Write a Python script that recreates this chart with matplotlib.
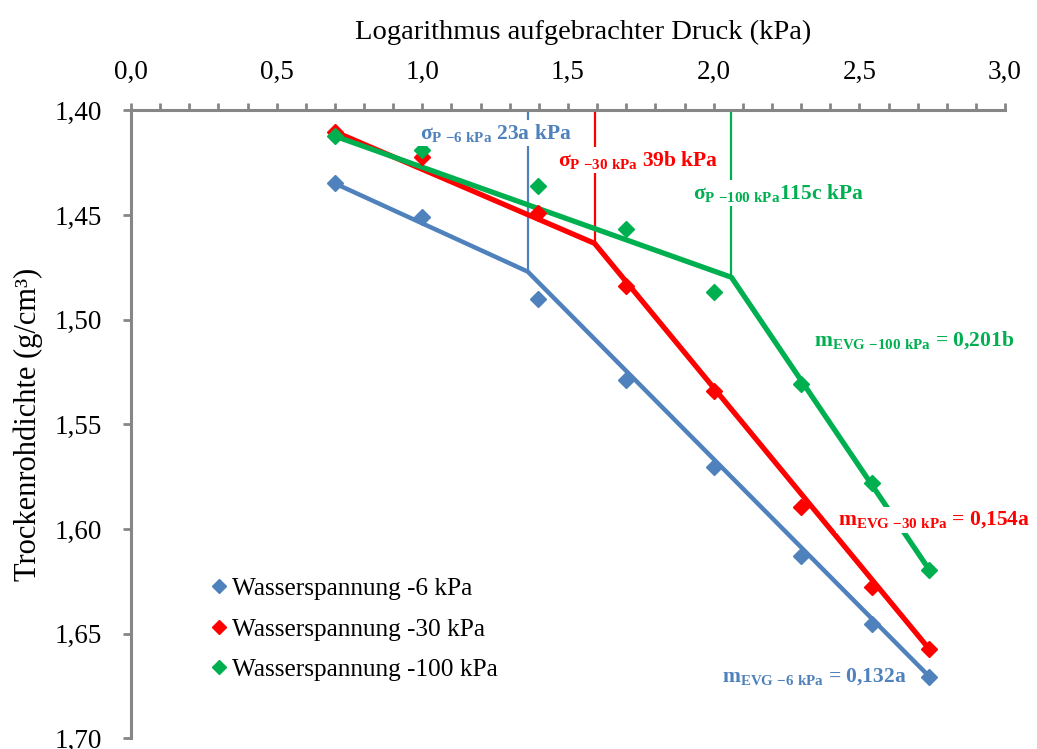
import numpy as np
import matplotlib
matplotlib.use("Agg")
import matplotlib.pyplot as plt
from matplotlib.lines import Line2D
from matplotlib.ticker import MultipleLocator, FuncFormatter

plt.rcParams['font.family'] = ['Liberation Serif', 'DejaVu Serif']
plt.rcParams['mathtext.fontset'] = 'custom'
plt.rcParams['mathtext.rm'] = 'Liberation Serif:bold'
plt.rcParams['mathtext.it'] = 'Liberation Serif:bold'
plt.rcParams['mathtext.bf'] = 'Liberation Serif:bold'

# Messwerte: log10 des Drucks und Trockenrohdichte je Wasserspannung
log_druck = [0.699, 1.000, 1.398, 1.699, 2.000, 2.301, 2.544, 2.740]
rho_6 = [1.4348, 1.4510, 1.4902, 1.5288, 1.5703, 1.6129, 1.6455, 1.6705]
rho_30 = [1.4105, 1.4221, 1.4488, 1.4839, 1.5339, 1.5893, 1.6278, 1.6574]
rho_100 = [1.4122, 1.4190, 1.4359, 1.4566, 1.4866, 1.5307, 1.5781, 1.6195]

# Vorbelastung (kPa) und Knickpunkt-Dichte der Regressionsgeraden
sigma_p = [23, 39, 115]
rho_knick = [1.4770, 1.4635, 1.4797]
rho_start = [1.4348, 1.4101, 1.4122]
rho_ende = [1.6705, 1.6574, 1.6195]

reihen = ['Wasserspannung -6 kPa', 'Wasserspannung -30 kPa', 'Wasserspannung -100 kPa']
farben = ['#4F81BD', '#FF0000', '#00B050']
sigma_label = [r'σ$_{\mathrm{P\ {-}6\ kPa}}$ 23a kPa',
               r'σ$_{\mathrm{P\ {-}30\ kPa}}$ 39b kPa',
               r'σ$_{\mathrm{P\ {-}100\ kPa}}$115c kPa']
m_label = [r'm$_{\mathrm{EVG\ {-}6\ kPa}}$ = 0,132a',
           r'm$_{\mathrm{EVG\ {-}30\ kPa}}$ = 0,154a',
           r'm$_{\mathrm{EVG\ {-}100\ kPa}}$ = 0,201b']

fig = plt.figure(figsize=(10.37, 7.49), dpi=100)
ax = fig.add_axes([0.1263, 0.0143, 0.8429, 0.8382])

x0 = log_druck[0]
x1 = log_druck[-1]
breite = [3.2, 3.8, 3.8]
for i, werte in enumerate([rho_6, rho_30, rho_100]):
    xk = np.log10(sigma_p[i])
    ax.plot([x0, xk, x1], [rho_start[i], rho_knick[i], rho_ende[i]],
            color=farben[i], lw=breite[i], zorder=2, solid_joinstyle='miter')
    ax.plot([xk, xk], [1.40, rho_knick[i]], color=farben[i], lw=1.6, zorder=1)
    ax.plot(log_druck, werte, 'D', color=farben[i], ms=8.3, zorder=3 + i)

# Beschriftungen mit weissem Hintergrund
box = dict(facecolor='white', edgecolor='none', pad=1.5)
sigma_pos = [(0.992, 1.4107), (1.466, 1.4237), (1.930, 1.4394)]
m_pos = [(2.030, 1.6707), (2.428, 1.5957), (2.343, 1.5097)]
for i in range(3):
    ax.text(*sigma_pos[i], sigma_label[i], color=farben[i], fontsize=15.5,
            fontweight='bold', ha='left', va='center', bbox=box, zorder=5)
    ax.text(*m_pos[i], m_label[i], color=farben[i], fontsize=15.5,
            fontweight='bold', ha='left', va='center', bbox=box, zorder=5,
            clip_on=False)

ax.set_xlim(0, 3.0)
ax.set_ylim(1.70, 1.40)
ax.xaxis.set_major_locator(MultipleLocator(0.5))
ax.xaxis.set_minor_locator(MultipleLocator(0.1))
ax.yaxis.set_major_locator(MultipleLocator(0.05))
komma1 = FuncFormatter(lambda v, p: f'{v:.1f}'.replace('.', ','))
komma2 = FuncFormatter(lambda v, p: f'{v:.2f}'.replace('.', ','))
ax.xaxis.set_major_formatter(komma1)
ax.yaxis.set_major_formatter(komma2)
ax.xaxis.tick_top()
ax.xaxis.set_label_position('top')

grau = '#868686'
for s in ['bottom', 'right']:
    ax.spines[s].set_visible(False)
for s in ['top', 'left']:
    ax.spines[s].set_color(grau)
    ax.spines[s].set_linewidth(2.2)
ax.tick_params(axis='x', which='both', direction='out', length=5, width=2,
               color=grau, labelsize=19.5, pad=13.5)
ax.tick_params(axis='y', which='major', direction='out', length=6, width=2,
               color=grau, labelsize=19.5, pad=15)

ax.set_xlabel('Logarithmus aufgebrachter Druck (kPa)', fontsize=20.5, labelpad=15)
ax.xaxis.label.set_x(0.517)
ax.set_ylabel('Trockenrohdichte (g/cm³)', fontsize=22, labelpad=8)

handles = [Line2D([], [], ls='none', marker='D', ms=7.5, color=c) for c in farben]
ax.legend(handles, reihen, loc='upper left', bbox_to_anchor=(0.08, 0.272),
          frameon=False, fontsize=18.2, handlelength=0.6, handletextpad=0.25,
          labelspacing=0.7, borderaxespad=0)

fig.savefig('out.png', dpi=100)
